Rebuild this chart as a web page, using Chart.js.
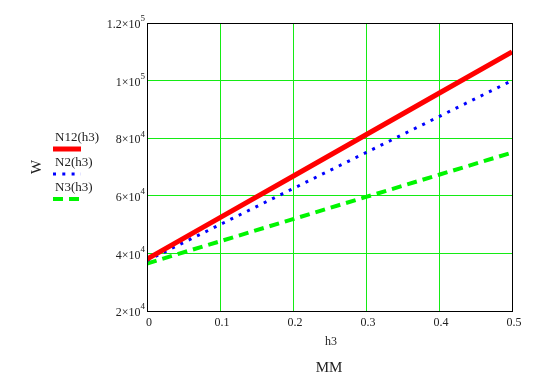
<!DOCTYPE html>
<html>
<head>
    <title>W vs h3</title>
    <script src="https://cdn.jsdelivr.net/npm/chart.js"></script>
    <style>
        body { margin: 0; background: #fff; }
    </style>
</head>
<body>
    <canvas id="chart" width="555" height="383"></canvas>

    <script>
        // values
        const h3 = [0, 0.1, 0.2, 0.3, 0.4, 0.5];
        const n12 = [38000, 52400, 66800, 81200, 95600, 110000];
        const n2 = [37500, 50000, 62500, 75000, 87500, 100000];
        const n3 = [36500, 44200, 51900, 59600, 67300, 75000];
        const seriesNames = ['N12(h3)', 'N2(h3)', 'N3(h3)'];
        const xTicks = [0, 0.1, 0.2, 0.3, 0.4, 0.5];
        const yTicks = [[2, 4], [4, 4], [6, 4], [8, 4], [1, 5], [1.2, 5]]; // mantissa, exponent

        const GRID = 'rgb(20,235,20)';
        const FONT = '"Liberation Serif", "Times New Roman", serif';

        function pts(ys) {
            return h3.map((x, i) => ({ x: x, y: ys[i] }));
        }

        // tick labels, axis titles, legend and frame
        const decor = {
            id: 'decor',
            afterDraw(chart) {
                const ctx = chart.ctx;
                const a = chart.chartArea;
                const xs = chart.scales.x, ys = chart.scales.y;
                ctx.save();

                ctx.strokeStyle = '#000';
                ctx.lineWidth = 1;
                ctx.strokeRect(Math.round(a.left) + 0.5, Math.round(a.top) + 0.5,
                    Math.round(a.right - a.left), Math.round(a.bottom - a.top));

                ctx.fillStyle = '#222';
                ctx.textBaseline = 'middle';

                // y ticks with superscript exponent
                yTicks.forEach(t => {
                    const v = t[0] * Math.pow(10, t[1]);
                    const py = ys.getPixelForValue(v) + 2;
                    ctx.font = '9px ' + FONT;
                    const ew = ctx.measureText(String(t[1])).width;
                    const ex = a.left - 2 - ew;
                    ctx.textAlign = 'left';
                    ctx.fillText(String(t[1]), ex, py - 6);
                    ctx.font = '12px ' + FONT;
                    ctx.textAlign = 'right';
                    ctx.fillText(t[0] + '\u00d710', ex, py);
                });

                // x ticks
                ctx.font = '12px ' + FONT;
                ctx.textAlign = 'center';
                xTicks.forEach(v => {
                    ctx.fillText(String(v), xs.getPixelForValue(v) + 2, a.bottom + 12);
                });

                ctx.fillText('h3', 331, 342);
                ctx.font = '15px ' + FONT;
                ctx.fillText('MM', 329, 368);

                ctx.save();
                ctx.translate(37, 167);
                ctx.rotate(-Math.PI / 2);
                ctx.font = '15px ' + FONT;
                ctx.fillText('W', 0, 0);
                ctx.restore();

                // legend
                ctx.font = '13px ' + FONT;
                ctx.textAlign = 'left';
                const rows = [138, 163, 188];
                chart.data.datasets.forEach((ds, i) => {
                    const y = rows[i];
                    ctx.fillStyle = '#222';
                    ctx.fillText(ds.label, 55, y);
                    ctx.strokeStyle = ds.borderColor;
                    ctx.lineWidth = ds.borderWidth;
                    ctx.setLineDash(ds.borderDash || []);
                    ctx.lineCap = 'butt';
                    ctx.beginPath();
                    ctx.moveTo(53, y + 11);
                    ctx.lineTo(81, y + 11);
                    ctx.stroke();
                });
                ctx.setLineDash([]);
                ctx.restore();
            }
        };

        const ctx = document.getElementById('chart').getContext('2d');
        new Chart(ctx, {
            type: 'line',
            data: {
                datasets: [
                    {
                        label: seriesNames[0],
                        data: pts(n12),
                        borderColor: 'rgb(255,0,0)',
                        borderWidth: 5,
                        pointRadius: 0
                    },
                    {
                        label: seriesNames[1],
                        data: pts(n2),
                        borderColor: 'rgb(0,0,255)',
                        borderWidth: 3,
                        borderDash: [3, 6.3],
                        pointRadius: 0
                    },
                    {
                        label: seriesNames[2],
                        data: pts(n3),
                        borderColor: 'rgb(0,245,0)',
                        borderWidth: 4,
                        borderDash: [10, 6],
                        pointRadius: 0
                    }
                ]
            },
            options: {
                responsive: false,
                animation: false,
                events: [],
                layout: { padding: { left: 147, right: 43, top: 23, bottom: 72 } },
                plugins: {
                    legend: { display: false },
                    tooltip: { enabled: false }
                },
                scales: {
                    x: {
                        type: 'linear',
                        min: 0,
                        max: 0.5,
                        ticks: { display: false, stepSize: 0.1 },
                        grid: {
                            color: c => (c.index === 0 || c.tick.value >= 0.5) ? 'rgba(0,0,0,0)' : GRID,
                            drawTicks: false
                        },
                        border: { display: false }
                    },
                    y: {
                        min: 20000,
                        max: 120000,
                        ticks: { display: false, stepSize: 20000 },
                        grid: {
                            color: c => (c.index === 0 || c.tick.value >= 120000) ? 'rgba(0,0,0,0)' : GRID,
                            drawTicks: false
                        },
                        border: { display: false }
                    }
                }
            },
            plugins: [decor]
        });
    </script>
</body>
</html>
